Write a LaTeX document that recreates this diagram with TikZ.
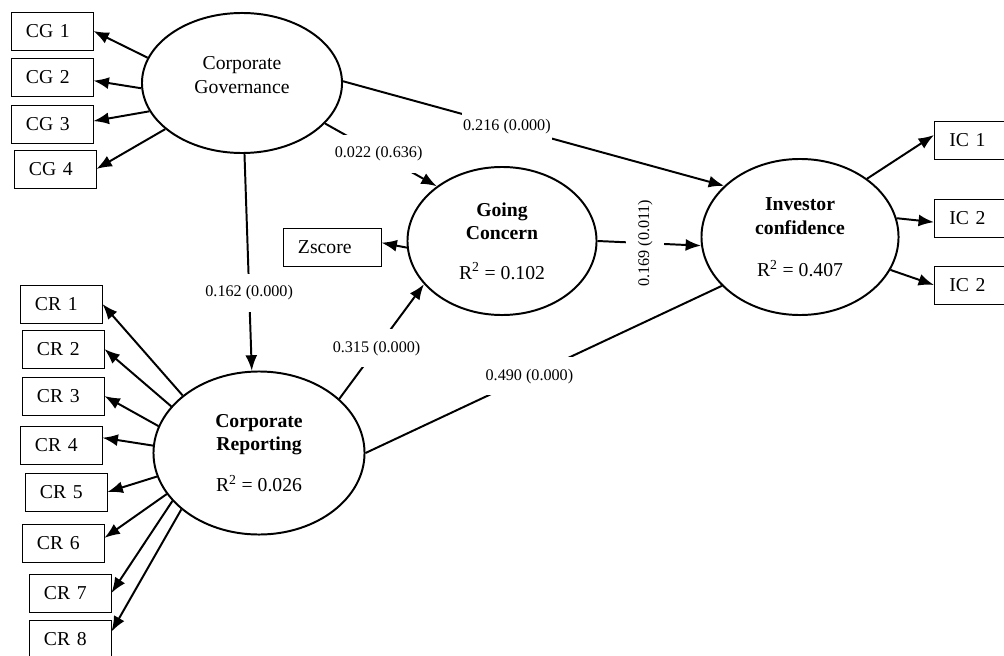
\documentclass[tikz,border=0pt]{standalone}
\usepackage{fontspec}
\setmainfont{Liberation Serif}
\usetikzlibrary{arrows.meta,shapes.geometric}

\begin{document}
\begin{tikzpicture}[x=0.025cm, y=-0.025cm, >={Latex[length=11pt,width=8.5pt]},
    box/.style={draw, line width=0.6pt, inner xsep=0.375cm, inner ysep=0pt, minimum height=0.95cm,
      text width=1.3cm, align=left, font=\fontsize{14}{17}\selectfont},
    lv/.style={draw, ellipse, line width=1.4pt, inner sep=0pt, align=center, font=\fontsize{14}{17}\selectfont},
    lbl/.style={fill=white, inner xsep=1pt, inner ysep=0pt, minimum height=0.95cm, font=\fontsize{11.5}{14}\selectfont},
    conn/.style={line width=1.4pt}]
  \useasboundingbox (0,0) rectangle (1004,656);

  % latent variables
  \node[lv, minimum width=5cm, minimum height=3.5cm] (cg) at (242,83) {Corporate\\Governance\\[-6pt]\mbox{}};
  \node[lv, minimum width=4.725cm, minimum height=3.7cm] (gc) at (502,241)
    {\textbf{Going}\\\textbf{Concern}\\[11pt]R\textsuperscript{2} = 0.102};
  \node[lv, minimum width=4.925cm, minimum height=3.9cm] (ic) at (800,237)
    {\textbf{Investor}\\\textbf{confidence}\\[13pt]R\textsuperscript{2} = 0.407};
  \node[lv, minimum width=5.275cm, minimum height=4.075cm] (cr) at (259,453)
    {\textbf{Corporate}\\\textbf{Reporting}\\[12pt]R\textsuperscript{2} = 0.026};

  % indicators
  \node[box] (cg1) at (52,31) {CG 1};
  \node[box] (cg2) at (52,77) {CG 2};
  \node[box] (cg3) at (52,124) {CG 3};
  \node[box] (cg4) at (55,169) {CG 4};
  \node[box] (cr1) at (61,304) {CR 1};
  \node[box] (cr2) at (63,349) {CR 2};
  \node[box] (cr3) at (63,396) {CR 3};
  \node[box] (cr4) at (61,445) {CR 4};
  \node[box] (cr5) at (66,492) {CR 5};
  \node[box] (cr6) at (63,543) {CR 6};
  \node[box] (cr7) at (70,593) {CR 7};
  \node[box] (cr8) at (70,639) {CR 8};
  \node[box, text width=1.7cm] (zs) at (332,247) {Zscore};
  \node[box, anchor=west, text width=1.6cm] (ic1) at (934,140) {IC 1};
  \node[box, anchor=west, text width=1.6cm] (ic2) at (934,218) {IC 2};
  \node[box, anchor=west, text width=1.6cm] (ic3) at (934,285) {IC 2};

  % loadings
  \draw[conn,->] (cg.165) -- (cg1.east);
  \draw[conn,->] (cg.183.4) -- (cg2.-5);
  \draw[conn,->] (cg.197.7) -- (cg3.4);
  \draw[conn,->] (cg.211.3) -- (cg4.east);
  \draw[conn,->] (cr.143.6) -- (cr1.east);
  \draw[conn,->] (cr.152.1) -- (cr2.east);
  \draw[conn,->] (cr.165.4) -- (cr3.east);
  \draw[conn,->] (cr.176.7) -- (cr4.10);
  \draw[conn,->] (cr.193.4) -- (cr5.east);
  \draw[conn,->] (cr.204) -- (cr6.7);
  \draw[conn,->] (cr.209.3) -- (cr7.east);
  \draw[conn,->] (cr.216.4) -- (cr8.10);
  \draw[conn,->] (gc.184.8) -- (zs.5);
  \draw[conn,->] (ic.41.8) -- (ic1.174);
  \draw[conn,->] (ic.11.3) -- (ic2.185);
  \draw[conn,->] (ic.340.4) -- (ic3.west);

  % paths
  \draw[conn,->] (cg.1) -- node[lbl, pos=0.43] {0.216 (0.000)} (ic.146.1);
  \draw[conn,->] (cg.334) -- node[lbl, pos=0.48] {0.022 (0.636)} (gc.140.5);
  \draw[conn,->] (cg.272) -- node[lbl, pos=0.64] {0.162 (0.000)} (cr.95);
  \draw[conn,->] (gc.east) -- node[lbl, pos=0.46, rotate=90] {0.169 (0.011)} (ic.185.2);
  \draw[conn,->] (cr.34.8) -- node[lbl, pos=0.44] {0.315 (0.000)} (gc.209);
  \draw[conn] (cr.east) -- node[lbl, pos=0.46] {0.490 (0.000)} (ic.212);
\end{tikzpicture}
\end{document}
